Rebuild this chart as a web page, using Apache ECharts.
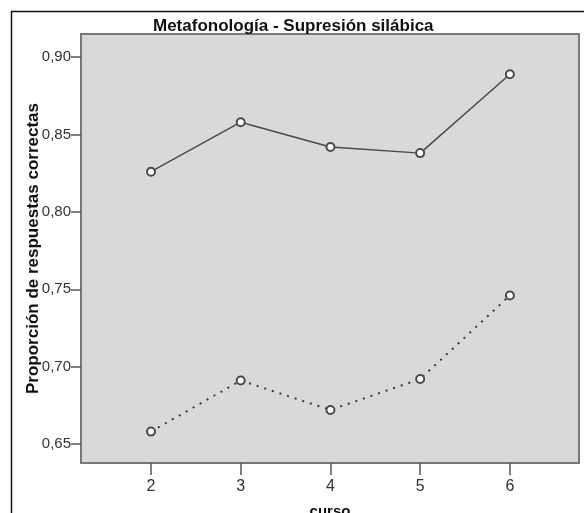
<!DOCTYPE html>
<html>
<head>
<meta charset="utf-8">
<script src="https://cdn.jsdelivr.net/npm/echarts@6/dist/echarts.min.js"></script>
<style>
  html, body { margin: 0; padding: 0; background: #fff; }
  #chart { width: 584px; height: 513px; }
</style>
</head>
<body>
<div id="chart"></div>
<script>
  // datos
  var cursos = [2, 3, 4, 5, 6];
  var serieSuperior = [0.826, 0.858, 0.842, 0.838, 0.889];
  var serieInferior = [0.658, 0.691, 0.672, 0.692, 0.746];
  var yTicks = [0.65, 0.70, 0.75, 0.80, 0.85, 0.90];

  var myChart = echarts.init(document.getElementById('chart'));

  function pares(valores) {
    return cursos.map(function (c, i) { return [c, valores[i]]; });
  }

  var option = {
    animation: false,
    textStyle: { fontFamily: 'Liberation Sans, Arial, sans-serif' },
    title: {
      text: 'Metafonología - Supresión silábica',
      left: 148,
      top: 13,
      textStyle: { fontSize: 17, fontWeight: 'bold', color: '#111' }
    },
    graphic: [{
      type: 'rect',
      left: 9, top: 9,
      shape: { width: 620, height: 620 },
      style: { fill: 'none', stroke: '#111', lineWidth: 1.5 },
      z: -10
    }],
    grid: {
      left: 81, top: 34, right: 5, bottom: 50,
      outerBoundsMode: 'none',
      containLabel: false,
      show: true,
      backgroundColor: '#d9d9d9',
      borderColor: '#777',
      borderWidth: 2
    },
    xAxis: {
      type: 'value',
      min: 1.22,
      max: 6.77,
      name: 'curso',
      nameLocation: 'middle',
      nameGap: 41,
      nameMoveOverlap: false,
      nameTextStyle: { fontSize: 15, fontWeight: 'bold', color: '#111' },
      axisLine: { show: true, lineStyle: { color: '#777', width: 2 } },
      axisTick: { show: true, customValues: cursos, length: 12, lineStyle: { color: '#555', width: 1.5 } },
      axisLabel: { customValues: cursos, margin: 16, fontSize: 16, color: '#333' },
      splitLine: { show: false }
    },
    yAxis: {
      type: 'value',
      min: 0.6377,
      max: 0.915,
      name: 'Proporción de respuestas correctas',
      nameLocation: 'middle',
      nameGap: 39,
      nameMoveOverlap: false,
      nameTextStyle: { fontSize: 17, fontWeight: 'bold', color: '#111' },
      axisLine: { show: true, lineStyle: { color: '#777', width: 2 } },
      axisTick: { show: true, customValues: yTicks, length: 10, lineStyle: { color: '#555', width: 1.5 } },
      axisLabel: {
        customValues: yTicks,
        margin: 10,
        fontSize: 15,
        color: '#333',
        formatter: function (v) { return v.toFixed(2).replace('.', ','); }
      },
      splitLine: { show: false }
    },
    series: [
      {
        type: 'line',
        data: pares(serieSuperior),
        symbol: 'emptyCircle',
        symbolSize: 8,
        lineStyle: { color: '#4a4a4a', width: 1.5 },
        itemStyle: { color: '#4a4a4a', borderWidth: 1 }
      },
      {
        type: 'line',
        data: pares(serieInferior),
        symbol: 'emptyCircle',
        symbolSize: 8,
        lineStyle: { color: '#3a3a3a', width: 2, type: [2, 6] },
        itemStyle: { color: '#4a4a4a', borderWidth: 1 }
      }
    ]
  };

  myChart.setOption(option);
</script>
</body>
</html>
